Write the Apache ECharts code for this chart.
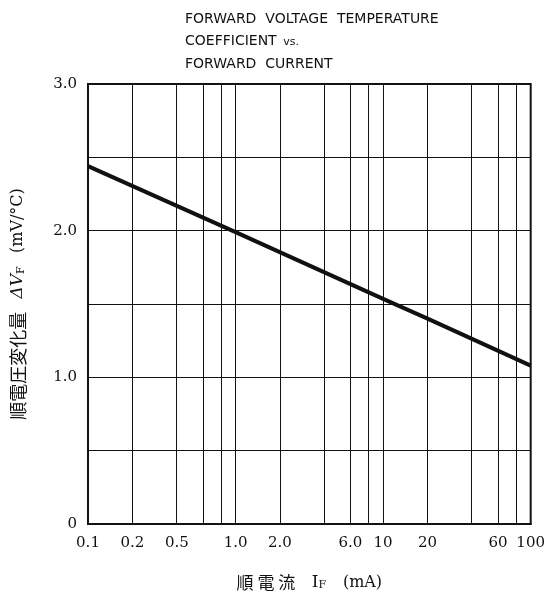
<!DOCTYPE html>
<html>
<head>
<meta charset="utf-8">
<script src="https://cdn.jsdelivr.net/npm/echarts@6/dist/echarts.min.js"></script>
<style>html,body{margin:0;padding:0;background:#fff;}#chart{width:548px;height:596px;}</style>
</head>
<body>
<div id="chart"></div>
<script>
// Data
const currentMA = [0.1, 1, 10, 20, 100];          // forward current I_F (mA)
const deltaVF = [2.44, 1.99, 1.535, 1.40, 1.08];  // ΔV_F (mV/°C)
const xGridMA = [0.2, 0.4, 0.6, 0.8, 1, 2, 4, 6, 8, 10, 20, 40, 60, 80];
const xTickMA = [0.1, 0.2, 0.4, 1, 2, 6, 10, 20, 60, 100];
const xTickLabels = ['0.1', '0.2', '0.5', '1.0', '2.0', '6.0', '10', '20', '60', '100'];
const yTickValues = [0, 1, 2, 3];
const yTickLabels = ['0', '1.0', '2.0', '3.0'];
const titleLines = ['FORWARD  VOLTAGE  TEMPERATURE', 'COEFFICIENT', 'FORWARD  CURRENT'];

const xTickLog = xTickMA.map(v => Math.log10(v));
function xLabel(v) {
  let best = 0, bd = Infinity;
  xTickLog.forEach((t, i) => { const d = Math.abs(t - v); if (d < bd) { bd = d; best = i; } });
  return xTickLabels[best];
}
function yLabel(v) {
  const i = yTickValues.findIndex(t => Math.abs(t - v) < 1e-6);
  return i >= 0 ? yTickLabels[i] : '';
}

const serif = '"DejaVu Serif", "Liberation Serif", serif';
const cjk = '"Noto Sans CJK JP", sans-serif';

const chart = echarts.init(document.getElementById('chart'), null, {renderer: 'canvas'});
chart.setOption({
  animation: false,
  backgroundColor: '#fff',
  graphic: [
    {type: 'text', left: 185, top: 12, style: {text: titleLines[0], font: '14px "DejaVu Sans", sans-serif', fill: '#111'}},
    {type: 'text', left: 185, top: 34, style: {
      text: '{a|' + titleLines[1] + '}  {b|vs.}',
      rich: {a: {font: '14px "DejaVu Sans", sans-serif', fill: '#111', color: '#111'},
             b: {font: '11px "DejaVu Sans", sans-serif', color: '#111', verticalAlign: 'bottom', padding: [3, 0, 0, 0]}},
      fill: '#111'}},
    {type: 'text', left: 185, top: 57, style: {text: titleLines[2], font: '14px "DejaVu Sans", sans-serif', fill: '#111'}}
  ],
  grid: {left: 88, right: 15, top: 84, bottom: 69, show: true, borderColor: '#111', borderWidth: 2, backgroundColor: 'transparent'},
  xAxis: {
    type: 'value', min: -1, max: 2,
    axisLine: {show: true, onZero: false, lineStyle: {color: '#111', width: 2}},
    axisTick: {show: false},
    splitLine: {show: false},
    axisLabel: {customValues: xTickLog, formatter: v => xLabel(v), color: '#111', fontFamily: serif, fontSize: 15, margin: 12},
    name: '{c|順 電 流}     {i|I}{s|F}     {l|(mA)}',
    nameLocation: 'middle', nameGap: 50,
    nameTextStyle: {
      color: '#111',
      rich: {
        c: {fontFamily: cjk, fontSize: 17, color: '#111'},
        i: {fontFamily: serif, fontSize: 17, color: '#111'},
        s: {fontFamily: serif, fontSize: 11, color: '#111', verticalAlign: 'bottom', padding: [6, 0, 0, 0]},
        l: {fontFamily: serif, fontSize: 16, color: '#111'}
      }
    }
  },
  yAxis: {
    type: 'value', min: 0, max: 3, interval: 0.5,
    axisLine: {show: true, onZero: false, lineStyle: {color: '#111', width: 2}},
    axisTick: {show: false},
    splitLine: {show: true, lineStyle: {color: '#111', width: 1}},
    axisLabel: {formatter: v => yLabel(v), color: '#111', fontFamily: serif, fontSize: 15, margin: 11},
    name: '{c|順電圧変化量}    {i|ΔV}{s|F}    {l|(mV/°C)}',
    nameLocation: 'middle', nameRotate: 90, nameGap: 61,
    nameTextStyle: {
      color: '#111',
      rich: {
        c: {fontFamily: cjk, fontSize: 18, color: '#111'},
        i: {fontFamily: serif, fontSize: 17, color: '#111', fontStyle: 'italic'},
        s: {fontFamily: serif, fontSize: 11, color: '#111', verticalAlign: 'bottom', padding: [6, 0, 0, 0]},
        l: {fontFamily: serif, fontSize: 16, color: '#111'}
      }
    }
  },
  series: [{
    type: 'line',
    data: currentMA.map((c, i) => [Math.log10(c), deltaVF[i]]),
    symbol: 'none',
    lineStyle: {color: '#111', width: 4},
    z: 5,
    markLine: {
      silent: true, symbol: ['none', 'none'],
      label: {show: false},
      lineStyle: {color: '#111', width: 1, type: 'solid'},
      data: xGridMA.map(v => ({xAxis: Math.log10(v)}))
    }
  }]
});
</script>
</body>
</html>
